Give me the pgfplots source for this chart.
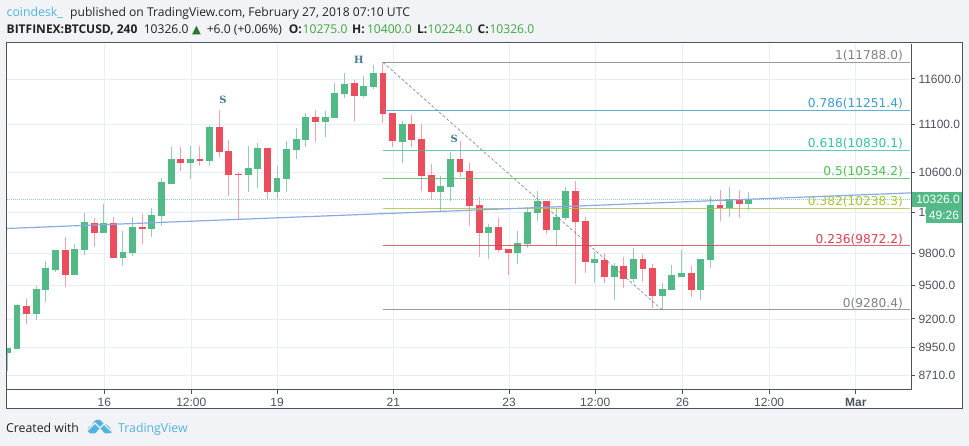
\documentclass[border=0pt]{standalone}
\usepackage{fontspec}
\usepackage{pgfplots}
\usepackage{pgfplotstable}
\pgfplotsset{compat=1.18}
\setmainfont{Open Sans}
\newfontfamily\ticksf{Liberation Sans}
\newfontfamily\djf{DejaVu Sans}
\newfontfamily\djs{DejaVu Serif}
\definecolor{bgc}{HTML}{F1F3F6}
\definecolor{framec}{HTML}{4C525E}
\definecolor{gridc}{HTML}{E9EEF3}
\definecolor{upc}{HTML}{53B987}
\definecolor{dnc}{HTML}{EB4D5C}
\definecolor{upw}{HTML}{93CDB3}
\definecolor{dnw}{HTML}{F3A3AC}
\definecolor{tvblue}{HTML}{53B3DD}
\definecolor{txt}{HTML}{222222}
\definecolor{pricec}{HTML}{8FCFB0}
\definecolor{trendc}{HTML}{8CA9E2}
\definecolor{hs}{HTML}{46788F}
\definecolor{f1}{HTML}{808080}
\definecolor{f786}{HTML}{3D9CCB}
\definecolor{f618}{HTML}{34C2A1}
\definecolor{f5}{HTML}{4CBF50}
\definecolor{f382}{HTML}{A5C536}
\definecolor{f236}{HTML}{D8404E}
\definecolor{hdgreen}{HTML}{3FA73F}
\pgfplotstableread{
k o h l c
-10 8902 8945 8753 8945
-9 8939 9330 8939 9324
-7 9246 9499 9193 9469
-6 9463 9734 9354 9663
-5 9647 9835 9631 9832
-3 9600 9892 9600 9842
-2 9835 10190 9788 10105
0 9995 10281 9995 10092
2 9760 10017 9685 9813
3 9804 10151 9779 10053
5 10037 10239 9956 10173
6 10163 10540 10059 10500
7 10482 10867 10482 10735
9 10697 10874 10530 10738
11 10711 11093 10669 11075
15 10574 10874 10404 10646
16 10635 10909 10441 10853
18 10401 10666 10328 10543
19 10533 10926 10401 10842
20 10835 11061 10735 10948
21 10937 11222 10863 11179
23 11129 11247 10969 11182
24 11172 11559 11172 11444
25 11433 11671 11389 11544
27 11411 11634 11389 11522
28 11514 11761 11488 11667
31 10916 11142 10694 11107
35 10401 10564 10209 10462
36 10452 10811 10311 10738
40 9998 10085 9750 10056
43 9807 10014 9706 9902
44 9892 10249 9854 10202
45 10193 10411 10111 10311
47 10027 10229 9873 10153
48 10144 10451 10124 10411
51 9713 9816 9527 9750
53 9582 9710 9366 9685
55 9563 9854 9536 9750
58 9408 9527 9280 9472
59 9463 9694 9463 9600
60 9582 9835 9582 9619
62 9463 9750 9372 9750
63 9741 10361 9666 10272
65 10245 10451 10153 10331
67 10275 10400 10224 10326
}\upT
\pgfplotstableread{
k o h l c
-8 9315 9378 9155 9246
-4 9832 9962 9484 9600
-1 10092 10141 9861 9995
1 10092 10156 9760 9760
4 10053 10183 9892 10037
8 10738 10867 10608 10697
10 10738 10874 10666 10718
12 11075 11258 10756 10811
13 10818 10937 10361 10574
14 10587 10605 10131 10571
17 10853 10853 10334 10401
22 11182 11258 10916 11129
26 11555 11589 11139 11411
29 11667 11788 11115 11215
30 11226 11226 10863 10926
32 11107 11204 10863 10937
33 10948 11107 10408 10564
34 10571 10687 10331 10401
37 10738 10926 10554 10605
38 10615 10697 10066 10262
39 10272 10351 9769 9998
41 10056 10141 9816 9835
42 9845 9845 9600 9807
46 10311 10311 9988 10027
49 10411 10513 9518 10105
50 10114 10151 9619 9722
52 9741 9807 9527 9582
54 9685 9769 9481 9563
56 9750 9797 9536 9656
57 9666 9704 9300 9408
61 9619 9685 9399 9463
64 10272 10421 10111 10245
66 10331 10421 10141 10281
}\dnT
\newcommand\candles[3]{%
  \addplot[draw=none,forget plot,error bars/.cd,y dir=both,y explicit,error mark=none,
    error bar style={color=#3,line width=1pt}]
    table[x=k,y=c,y error plus expr={\thisrow{h}-\thisrow{c}},y error minus expr={\thisrow{c}-\thisrow{l}}]{#1};
  \addplot[draw=none,forget plot,error bars/.cd,y dir=both,y explicit,error mark=none,
    error bar style={color=#2,line width=6.9pt}]
    table[x=k,y=c,y error plus expr={max(\thisrow{o},\thisrow{c})-\thisrow{c}},y error minus expr={\thisrow{c}-min(\thisrow{o},\thisrow{c})}]{#1};
}
\newcommand\fib[3]{%
  \addplot[#2,line width=1pt,opacity=0.8,forget plot] coordinates {(29,#1) (83.7,#1)};
  \node[anchor=base east,text=#2,font=\djf\fontsize{12.2}{14}\selectfont,inner sep=0pt]
    at (axis cs:83,#1) [yshift=2.7pt] {#3};
}
\newcommand\hd[3]{\node[anchor=base west,inner sep=0pt,font=\fontsize{#2}{14}\selectfont,text=txt] at #1 {#3};}
\begin{document}
\begin{tikzpicture}
\useasboundingbox (0pt,0pt) rectangle (969pt,446pt);
\fill[bgc] (0pt,0pt) rectangle (969pt,446pt);
\filldraw[fill=white,draw=framec,line width=1pt] (6.5pt,37pt) rectangle (962pt,403pt);
\begin{axis}[
  at={(7pt,56pt)},anchor=south west,scale only axis,width=904pt,height=346pt,
  ymode=log,xmin=-10.04,xmax=83.83,ymin=8591,ymax=11999,
  axis x line*=bottom,axis y line*=right,
  axis line style={framec,line width=1pt,-},
  xtick={0.06,9.1,18,30.07,42.1,51.04,60.1,69.1,78.1},
  xticklabels={16,12:00,19,21,23,12:00,26,12:00,\textbf{Mar}},
  ytick={8710,8950,9200,9500,9800,10200,10600,11100,11600},
  yticklabels={8710.0,8950.0,9200.0,9500.0,9800.0,10200.0,10600.0,11100.0,11600.0},
  minor tick num=0,log basis y=10,
  xmajorgrids,ymajorgrids,grid style={gridc,line width=0.8pt},
  tick style={framec,line width=1pt},tick align=outside,major tick length=4pt,
  ticklabel style={font=\ticksf\fontsize{12}{13}\selectfont,text=framec},
  x tick label style={yshift=-1pt},
  clip=true,
]
\addplot[pricec,densely dotted,line width=1pt,forget plot] coordinates {(-10.04,10326) (83.83,10326)};
\candles{\upT}{upc}{upw}
\candles{\dnT}{dnc}{dnw}
\fib{11788}{f1}{1(11788.0)}
\fib{11251.4}{f786}{0.786(11251.4)}
\fib{10830.1}{f618}{0.618(10830.1)}
\fib{10534.2}{f5}{0.5(10534.2)}
\fib{10238.3}{f382}{0.382(10238.3)}
\fib{9872.2}{f236}{0.236(9872.2)}
\fib{9280.4}{f1}{0(9280.4)}
\addplot[f1,densely dashed,line width=0.8pt,opacity=0.8,forget plot] coordinates {(29,11788) (58,9280.4)};
\addplot[trendc,line width=1.2pt,forget plot] coordinates {(-10.04,10040) (83.83,10391)};
\node[text=hs,font=\djs\bfseries\fontsize{10}{11}\selectfont] at (axis cs:12.4,11367) {S};
\node[text=hs,font=\djs\bfseries\fontsize{10}{11}\selectfont] at (axis cs:26.5,11815) {H};
\node[text=hs,font=\djs\bfseries\fontsize{10}{11}\selectfont] at (axis cs:36.4,10951) {S};
\end{axis}
% last price and countdown
\fill[upc] (911.7pt,239.3pt) rectangle (962.3pt,254.3pt);
\fill[upc] (926pt,223pt) rectangle (962.3pt,239pt);
\node[text=white,font=\ticksf\fontsize{12}{13}\selectfont,anchor=center] at (938pt,246.7pt) {10326.0};
\node[text=white,font=\ticksf\fontsize{12}{13}\selectfont,anchor=center] at (944pt,231pt) {49:26};
% header
\hd{(6.5pt,429.5pt)}{12.3}{\textcolor{tvblue}{coindesk\_}}
\hd{(70pt,429.5pt)}{12.1}{published on TradingView.com, February 27, 2018 07:10 UTC}
\hd{(6.5pt,412pt)}{12}{\textbf{BITFINEX:BTCUSD, 240}}
\hd{(143.6pt,412pt)}{12.1}{10326.0}
\hd{(192pt,412pt)}{11.5}{\textcolor{hdgreen!70!black}{\djf ▲}}
\hd{(206.6pt,412pt)}{12.1}{+6.0 (+0.06\%)}
\hd{(288.6pt,412pt)}{12}{\textbf{O:}}
\hd{(302.5pt,412pt)}{12.1}{\textcolor{hdgreen}{10275.0}}
\hd{(352pt,412pt)}{12}{\textbf{H:}}
\hd{(366.8pt,412pt)}{12.1}{\textcolor{hdgreen}{10400.0}}
\hd{(416.8pt,412pt)}{12}{\textbf{L:}}
\hd{(427.5pt,412pt)}{12.1}{\textcolor{hdgreen}{10224.0}}
\hd{(477.5pt,412pt)}{12}{\textbf{C:}}
\hd{(489.3pt,412pt)}{12.1}{\textcolor{hdgreen}{10326.0}}
% footer
\hd{(6pt,13pt)}{12.3}{Created with}
\fill[tvblue] (88pt,15pt) .. controls (87pt,18pt) and (90pt,20pt) .. (92pt,21pt) .. controls (94pt,26pt) and (97pt,27pt) .. (100pt,26pt) -- (104pt,22pt) .. controls (107pt,22pt) and (112pt,18pt) .. (111.5pt,13pt) -- (105pt,12.5pt) -- (100pt,18pt) -- (95pt,12.5pt) -- (90pt,12.5pt) -- cycle;
\draw[bgc,line width=1.2pt] (88pt,16pt) -- (95pt,23pt) -- (100pt,18pt) -- (104pt,22pt) -- (111pt,15pt);
\hd{(118pt,13pt)}{12.3}{\textcolor{tvblue}{TradingView}}
\end{tikzpicture}
\end{document}
